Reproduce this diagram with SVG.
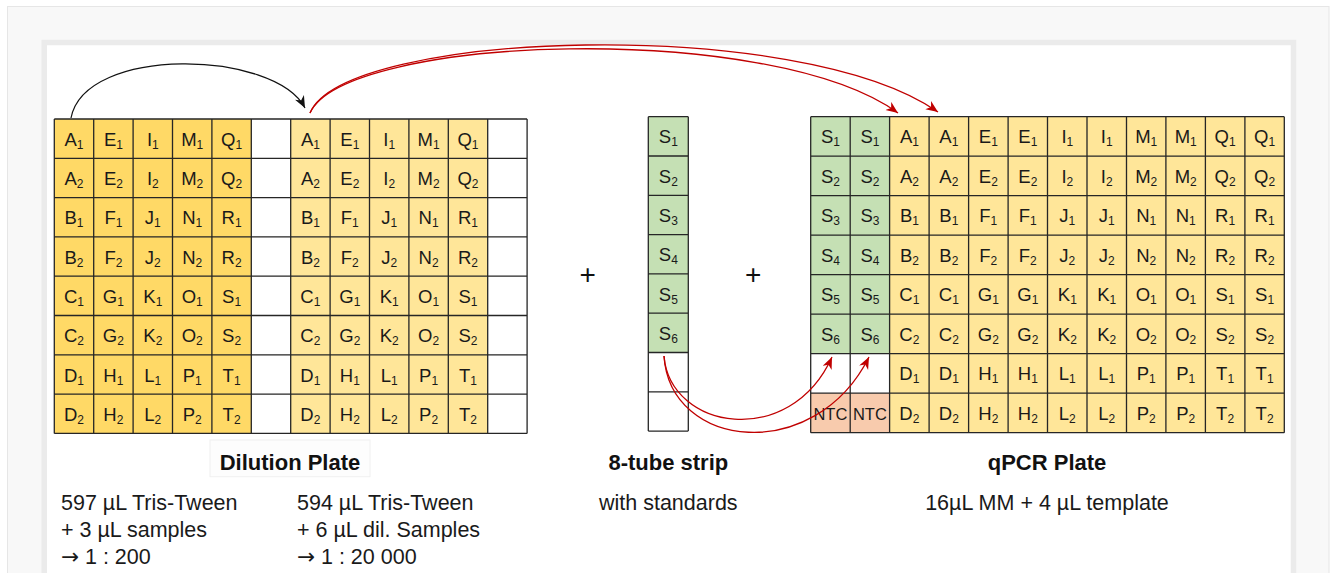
<svg xmlns="http://www.w3.org/2000/svg" width="1335" height="573" viewBox="0 0 1335 573">
  <style>
    .cell { font-family: "Liberation Sans", Arial, sans-serif; font-size: 18.5px; fill: #1a1a1a; text-anchor: middle; }
    .sub { font-size: 12px; }
    .grid { fill: none; stroke: #262626; stroke-width: 1.3; }
    .title { font-family: "Liberation Sans", Arial, sans-serif; font-size: 22px; font-weight: bold; fill: #111; text-anchor: middle; }
    .body { font-family: "Liberation Sans", Arial, sans-serif; font-size: 21.5px; fill: #1a1a1a; }
    .arr { font-family: "DejaVu Sans", sans-serif; }
    .mid { text-anchor: middle; }
    .plus { font-family: "Liberation Sans", Arial, sans-serif; font-size: 28px; fill: #111; text-anchor: middle; }
    .wire-black { fill: none; stroke: #111; stroke-width: 1.2; }
    .wire-red { fill: none; stroke: #c00000; stroke-width: 1.3; }
  </style>
  <defs>
    <marker id="ah-black" markerUnits="userSpaceOnUse" markerWidth="13" markerHeight="11" refX="12" refY="5" orient="auto">
      <path d="M0,0 L12,5 L0,10 L3.5,5 z" fill="#111"/>
    </marker>
    <marker id="ah-red" markerUnits="userSpaceOnUse" markerWidth="13" markerHeight="11" refX="12" refY="5" orient="auto">
      <path d="M0,0 L12,5 L0,10 L3.5,5 z" fill="#c00000"/>
    </marker>
  </defs>

  <!-- page frame -->
  <rect x="7.5" y="6.5" width="1321.5" height="580" fill="#f8f8f8" stroke="#e6e6e6" stroke-width="1"/>
  <rect x="44.2" y="42.5" width="1249.3" height="560" fill="#ffffff" stroke="#ebebeb" stroke-width="5.5"/>

  <!-- Dilution plate: two 1:200 / 1:20000 halves -->
  <g id="dilution-plate">
    <rect x="54.3" y="119" width="197" height="314.4" fill="#ffd966"/>
    <rect x="290.7" y="119" width="197" height="314.4" fill="#ffe699"/>
    <path class="grid" d="M54.3,119 H527.1 M54.3,158.3 H527.1 M54.3,197.6 H527.1 M54.3,236.9 H527.1 M54.3,276.2 H527.1 M54.3,315.5 H527.1 M54.3,354.8 H527.1 M54.3,394.1 H527.1 M54.3,433.4 H527.1
      M54.3,119 V433.4 M93.7,119 V433.4 M133.1,119 V433.4 M172.5,119 V433.4 M211.9,119 V433.4 M251.3,119 V433.4 M290.7,119 V433.4 M330.1,119 V433.4 M369.5,119 V433.4 M408.9,119 V433.4 M448.3,119 V433.4 M487.7,119 V433.4 M527.1,119 V433.4"/>
    <g class="cell">
      <g transform="translate(0,145.7)">
        <text x="74">A<tspan class="sub" dy="3">1</tspan></text><text x="113.4">E<tspan class="sub" dy="3">1</tspan></text><text x="152.8">I<tspan class="sub" dy="3">1</tspan></text><text x="192.2">M<tspan class="sub" dy="3">1</tspan></text><text x="231.6">Q<tspan class="sub" dy="3">1</tspan></text>
        <text x="310.4">A<tspan class="sub" dy="3">1</tspan></text><text x="349.8">E<tspan class="sub" dy="3">1</tspan></text><text x="389.2">I<tspan class="sub" dy="3">1</tspan></text><text x="428.6">M<tspan class="sub" dy="3">1</tspan></text><text x="468">Q<tspan class="sub" dy="3">1</tspan></text>
      </g>
      <g transform="translate(0,185)">
        <text x="74">A<tspan class="sub" dy="3">2</tspan></text><text x="113.4">E<tspan class="sub" dy="3">2</tspan></text><text x="152.8">I<tspan class="sub" dy="3">2</tspan></text><text x="192.2">M<tspan class="sub" dy="3">2</tspan></text><text x="231.6">Q<tspan class="sub" dy="3">2</tspan></text>
        <text x="310.4">A<tspan class="sub" dy="3">2</tspan></text><text x="349.8">E<tspan class="sub" dy="3">2</tspan></text><text x="389.2">I<tspan class="sub" dy="3">2</tspan></text><text x="428.6">M<tspan class="sub" dy="3">2</tspan></text><text x="468">Q<tspan class="sub" dy="3">2</tspan></text>
      </g>
      <g transform="translate(0,224.3)">
        <text x="74">B<tspan class="sub" dy="3">1</tspan></text><text x="113.4">F<tspan class="sub" dy="3">1</tspan></text><text x="152.8">J<tspan class="sub" dy="3">1</tspan></text><text x="192.2">N<tspan class="sub" dy="3">1</tspan></text><text x="231.6">R<tspan class="sub" dy="3">1</tspan></text>
        <text x="310.4">B<tspan class="sub" dy="3">1</tspan></text><text x="349.8">F<tspan class="sub" dy="3">1</tspan></text><text x="389.2">J<tspan class="sub" dy="3">1</tspan></text><text x="428.6">N<tspan class="sub" dy="3">1</tspan></text><text x="468">R<tspan class="sub" dy="3">1</tspan></text>
      </g>
      <g transform="translate(0,263.6)">
        <text x="74">B<tspan class="sub" dy="3">2</tspan></text><text x="113.4">F<tspan class="sub" dy="3">2</tspan></text><text x="152.8">J<tspan class="sub" dy="3">2</tspan></text><text x="192.2">N<tspan class="sub" dy="3">2</tspan></text><text x="231.6">R<tspan class="sub" dy="3">2</tspan></text>
        <text x="310.4">B<tspan class="sub" dy="3">2</tspan></text><text x="349.8">F<tspan class="sub" dy="3">2</tspan></text><text x="389.2">J<tspan class="sub" dy="3">2</tspan></text><text x="428.6">N<tspan class="sub" dy="3">2</tspan></text><text x="468">R<tspan class="sub" dy="3">2</tspan></text>
      </g>
      <g transform="translate(0,302.9)">
        <text x="74">C<tspan class="sub" dy="3">1</tspan></text><text x="113.4">G<tspan class="sub" dy="3">1</tspan></text><text x="152.8">K<tspan class="sub" dy="3">1</tspan></text><text x="192.2">O<tspan class="sub" dy="3">1</tspan></text><text x="231.6">S<tspan class="sub" dy="3">1</tspan></text>
        <text x="310.4">C<tspan class="sub" dy="3">1</tspan></text><text x="349.8">G<tspan class="sub" dy="3">1</tspan></text><text x="389.2">K<tspan class="sub" dy="3">1</tspan></text><text x="428.6">O<tspan class="sub" dy="3">1</tspan></text><text x="468">S<tspan class="sub" dy="3">1</tspan></text>
      </g>
      <g transform="translate(0,342.2)">
        <text x="74">C<tspan class="sub" dy="3">2</tspan></text><text x="113.4">G<tspan class="sub" dy="3">2</tspan></text><text x="152.8">K<tspan class="sub" dy="3">2</tspan></text><text x="192.2">O<tspan class="sub" dy="3">2</tspan></text><text x="231.6">S<tspan class="sub" dy="3">2</tspan></text>
        <text x="310.4">C<tspan class="sub" dy="3">2</tspan></text><text x="349.8">G<tspan class="sub" dy="3">2</tspan></text><text x="389.2">K<tspan class="sub" dy="3">2</tspan></text><text x="428.6">O<tspan class="sub" dy="3">2</tspan></text><text x="468">S<tspan class="sub" dy="3">2</tspan></text>
      </g>
      <g transform="translate(0,381.5)">
        <text x="74">D<tspan class="sub" dy="3">1</tspan></text><text x="113.4">H<tspan class="sub" dy="3">1</tspan></text><text x="152.8">L<tspan class="sub" dy="3">1</tspan></text><text x="192.2">P<tspan class="sub" dy="3">1</tspan></text><text x="231.6">T<tspan class="sub" dy="3">1</tspan></text>
        <text x="310.4">D<tspan class="sub" dy="3">1</tspan></text><text x="349.8">H<tspan class="sub" dy="3">1</tspan></text><text x="389.2">L<tspan class="sub" dy="3">1</tspan></text><text x="428.6">P<tspan class="sub" dy="3">1</tspan></text><text x="468">T<tspan class="sub" dy="3">1</tspan></text>
      </g>
      <g transform="translate(0,420.8)">
        <text x="74">D<tspan class="sub" dy="3">2</tspan></text><text x="113.4">H<tspan class="sub" dy="3">2</tspan></text><text x="152.8">L<tspan class="sub" dy="3">2</tspan></text><text x="192.2">P<tspan class="sub" dy="3">2</tspan></text><text x="231.6">T<tspan class="sub" dy="3">2</tspan></text>
        <text x="310.4">D<tspan class="sub" dy="3">2</tspan></text><text x="349.8">H<tspan class="sub" dy="3">2</tspan></text><text x="389.2">L<tspan class="sub" dy="3">2</tspan></text><text x="428.6">P<tspan class="sub" dy="3">2</tspan></text><text x="468">T<tspan class="sub" dy="3">2</tspan></text>
      </g>
    </g>
  </g>

  <!-- 8-tube strip with standards -->
  <g id="tube-strip">
    <rect x="648.3" y="116.7" width="40" height="235.8" fill="#c5e0b4"/>
    <path class="grid" d="M648.3,116.7 H688.3 M648.3,156 H688.3 M648.3,195.3 H688.3 M648.3,234.6 H688.3 M648.3,273.9 H688.3 M648.3,313.2 H688.3 M648.3,352.5 H688.3 M648.3,391.8 H688.3 M648.3,431.1 H688.3 M648.3,116.7 V431.1 M688.3,116.7 V431.1"/>
    <g class="cell">
      <text x="668.3" y="143.4">S<tspan class="sub" dy="3">1</tspan></text>
      <text x="668.3" y="182.7">S<tspan class="sub" dy="3">2</tspan></text>
      <text x="668.3" y="222">S<tspan class="sub" dy="3">3</tspan></text>
      <text x="668.3" y="261.3">S<tspan class="sub" dy="3">4</tspan></text>
      <text x="668.3" y="300.6">S<tspan class="sub" dy="3">5</tspan></text>
      <text x="668.3" y="339.9">S<tspan class="sub" dy="3">6</tspan></text>
    </g>
  </g>

  <g id="plus-signs">
    <text class="plus" x="587.7" y="284">+</text>
    <text class="plus" x="753.3" y="284">+</text>
  </g>

  <!-- qPCR plate: standards, NTCs, duplicate samples -->
  <g id="qpcr-plate">
    <rect x="810.7" y="116.7" width="78.9" height="237" fill="#c5e0b4"/>
    <rect x="810.7" y="393.2" width="78.9" height="39.5" fill="#f8cbad"/>
    <rect x="889.6" y="116.7" width="394.7" height="316" fill="#ffe699"/>
    <path class="grid" d="M810.7,116.7 H1284.3 M810.7,156.2 H1284.3 M810.7,195.7 H1284.3 M810.7,235.2 H1284.3 M810.7,274.7 H1284.3 M810.7,314.2 H1284.3 M810.7,353.7 H1284.3 M810.7,393.2 H1284.3 M810.7,432.7 H1284.3
      M810.7,116.7 V432.7 M850.2,116.7 V432.7 M889.6,116.7 V432.7 M929.1,116.7 V432.7 M968.6,116.7 V432.7 M1008.1,116.7 V432.7 M1047.5,116.7 V432.7 M1087,116.7 V432.7 M1126.5,116.7 V432.7 M1165.9,116.7 V432.7 M1205.4,116.7 V432.7 M1244.9,116.7 V432.7 M1284.3,116.7 V432.7"/>
    <g class="cell">
      <g transform="translate(0,143.4)">
        <text x="830.4">S<tspan class="sub" dy="3">1</tspan></text><text x="869.9">S<tspan class="sub" dy="3">1</tspan></text>
        <text x="909.4">A<tspan class="sub" dy="3">1</tspan></text><text x="948.8">A<tspan class="sub" dy="3">1</tspan></text><text x="988.3">E<tspan class="sub" dy="3">1</tspan></text><text x="1027.8">E<tspan class="sub" dy="3">1</tspan></text><text x="1067.3">I<tspan class="sub" dy="3">1</tspan></text><text x="1106.7">I<tspan class="sub" dy="3">1</tspan></text><text x="1146.2">M<tspan class="sub" dy="3">1</tspan></text><text x="1185.7">M<tspan class="sub" dy="3">1</tspan></text><text x="1225.1">Q<tspan class="sub" dy="3">1</tspan></text><text x="1264.6">Q<tspan class="sub" dy="3">1</tspan></text>
      </g>
      <g transform="translate(0,182.9)">
        <text x="830.4">S<tspan class="sub" dy="3">2</tspan></text><text x="869.9">S<tspan class="sub" dy="3">2</tspan></text>
        <text x="909.4">A<tspan class="sub" dy="3">2</tspan></text><text x="948.8">A<tspan class="sub" dy="3">2</tspan></text><text x="988.3">E<tspan class="sub" dy="3">2</tspan></text><text x="1027.8">E<tspan class="sub" dy="3">2</tspan></text><text x="1067.3">I<tspan class="sub" dy="3">2</tspan></text><text x="1106.7">I<tspan class="sub" dy="3">2</tspan></text><text x="1146.2">M<tspan class="sub" dy="3">2</tspan></text><text x="1185.7">M<tspan class="sub" dy="3">2</tspan></text><text x="1225.1">Q<tspan class="sub" dy="3">2</tspan></text><text x="1264.6">Q<tspan class="sub" dy="3">2</tspan></text>
      </g>
      <g transform="translate(0,222.4)">
        <text x="830.4">S<tspan class="sub" dy="3">3</tspan></text><text x="869.9">S<tspan class="sub" dy="3">3</tspan></text>
        <text x="909.4">B<tspan class="sub" dy="3">1</tspan></text><text x="948.8">B<tspan class="sub" dy="3">1</tspan></text><text x="988.3">F<tspan class="sub" dy="3">1</tspan></text><text x="1027.8">F<tspan class="sub" dy="3">1</tspan></text><text x="1067.3">J<tspan class="sub" dy="3">1</tspan></text><text x="1106.7">J<tspan class="sub" dy="3">1</tspan></text><text x="1146.2">N<tspan class="sub" dy="3">1</tspan></text><text x="1185.7">N<tspan class="sub" dy="3">1</tspan></text><text x="1225.1">R<tspan class="sub" dy="3">1</tspan></text><text x="1264.6">R<tspan class="sub" dy="3">1</tspan></text>
      </g>
      <g transform="translate(0,261.9)">
        <text x="830.4">S<tspan class="sub" dy="3">4</tspan></text><text x="869.9">S<tspan class="sub" dy="3">4</tspan></text>
        <text x="909.4">B<tspan class="sub" dy="3">2</tspan></text><text x="948.8">B<tspan class="sub" dy="3">2</tspan></text><text x="988.3">F<tspan class="sub" dy="3">2</tspan></text><text x="1027.8">F<tspan class="sub" dy="3">2</tspan></text><text x="1067.3">J<tspan class="sub" dy="3">2</tspan></text><text x="1106.7">J<tspan class="sub" dy="3">2</tspan></text><text x="1146.2">N<tspan class="sub" dy="3">2</tspan></text><text x="1185.7">N<tspan class="sub" dy="3">2</tspan></text><text x="1225.1">R<tspan class="sub" dy="3">2</tspan></text><text x="1264.6">R<tspan class="sub" dy="3">2</tspan></text>
      </g>
      <g transform="translate(0,301.4)">
        <text x="830.4">S<tspan class="sub" dy="3">5</tspan></text><text x="869.9">S<tspan class="sub" dy="3">5</tspan></text>
        <text x="909.4">C<tspan class="sub" dy="3">1</tspan></text><text x="948.8">C<tspan class="sub" dy="3">1</tspan></text><text x="988.3">G<tspan class="sub" dy="3">1</tspan></text><text x="1027.8">G<tspan class="sub" dy="3">1</tspan></text><text x="1067.3">K<tspan class="sub" dy="3">1</tspan></text><text x="1106.7">K<tspan class="sub" dy="3">1</tspan></text><text x="1146.2">O<tspan class="sub" dy="3">1</tspan></text><text x="1185.7">O<tspan class="sub" dy="3">1</tspan></text><text x="1225.1">S<tspan class="sub" dy="3">1</tspan></text><text x="1264.6">S<tspan class="sub" dy="3">1</tspan></text>
      </g>
      <g transform="translate(0,340.9)">
        <text x="830.4">S<tspan class="sub" dy="3">6</tspan></text><text x="869.9">S<tspan class="sub" dy="3">6</tspan></text>
        <text x="909.4">C<tspan class="sub" dy="3">2</tspan></text><text x="948.8">C<tspan class="sub" dy="3">2</tspan></text><text x="988.3">G<tspan class="sub" dy="3">2</tspan></text><text x="1027.8">G<tspan class="sub" dy="3">2</tspan></text><text x="1067.3">K<tspan class="sub" dy="3">2</tspan></text><text x="1106.7">K<tspan class="sub" dy="3">2</tspan></text><text x="1146.2">O<tspan class="sub" dy="3">2</tspan></text><text x="1185.7">O<tspan class="sub" dy="3">2</tspan></text><text x="1225.1">S<tspan class="sub" dy="3">2</tspan></text><text x="1264.6">S<tspan class="sub" dy="3">2</tspan></text>
      </g>
      <g transform="translate(0,380.4)">
        <text x="909.4">D<tspan class="sub" dy="3">1</tspan></text><text x="948.8">D<tspan class="sub" dy="3">1</tspan></text><text x="988.3">H<tspan class="sub" dy="3">1</tspan></text><text x="1027.8">H<tspan class="sub" dy="3">1</tspan></text><text x="1067.3">L<tspan class="sub" dy="3">1</tspan></text><text x="1106.7">L<tspan class="sub" dy="3">1</tspan></text><text x="1146.2">P<tspan class="sub" dy="3">1</tspan></text><text x="1185.7">P<tspan class="sub" dy="3">1</tspan></text><text x="1225.1">T<tspan class="sub" dy="3">1</tspan></text><text x="1264.6">T<tspan class="sub" dy="3">1</tspan></text>
      </g>
      <g transform="translate(0,419.9)">
        <text x="830.4" font-size="16.5">NTC</text><text x="869.9" font-size="16.5">NTC</text>
        <text x="909.4">D<tspan class="sub" dy="3">2</tspan></text><text x="948.8">D<tspan class="sub" dy="3">2</tspan></text><text x="988.3">H<tspan class="sub" dy="3">2</tspan></text><text x="1027.8">H<tspan class="sub" dy="3">2</tspan></text><text x="1067.3">L<tspan class="sub" dy="3">2</tspan></text><text x="1106.7">L<tspan class="sub" dy="3">2</tspan></text><text x="1146.2">P<tspan class="sub" dy="3">2</tspan></text><text x="1185.7">P<tspan class="sub" dy="3">2</tspan></text><text x="1225.1">T<tspan class="sub" dy="3">2</tspan></text><text x="1264.6">T<tspan class="sub" dy="3">2</tspan></text>
      </g>
    </g>
  </g>

  <!-- captions -->
  <g id="dilution-caption">
    <rect x="210" y="440" width="160" height="36.7" fill="#fdfdfd" stroke="#f0f0f0" stroke-width="1"/>
    <text class="title" x="290" y="470">Dilution Plate</text>
    <text class="body" x="61" y="510">597 µL Tris-Tween</text>
    <text class="body" x="61" y="537">+ 3 µL samples</text>
    <text class="body" x="61" y="564"><tspan class="arr">→</tspan> 1 : 200</text>
    <text class="body" x="297" y="510">594 µL Tris-Tween</text>
    <text class="body" x="297" y="537">+ 6 µL dil. Samples</text>
    <text class="body" x="297" y="564"><tspan class="arr">→</tspan> 1 : 20 000</text>
  </g>
  <g id="strip-caption">
    <text class="title" x="668.3" y="470">8-tube strip</text>
    <text class="body mid" x="668.3" y="510">with standards</text>
  </g>
  <g id="qpcr-caption">
    <text class="title" x="1047" y="470">qPCR Plate</text>
    <text class="body mid" x="1047" y="510">16µL MM + 4 µL template</text>
  </g>

  <!-- pipetting transfers -->
  <g id="connectors">
    <path class="wire-black" d="M71,118 C85,45 275,50 305,108" marker-end="url(#ah-black)"/>
    <path class="wire-red" d="M310,113 C345,35 770,20 898,113" marker-end="url(#ah-red)"/>
    <path class="wire-red" d="M310,113 C345,30 800,15 938,112" marker-end="url(#ah-red)"/>
    <path class="wire-red" d="M664,356 C670,430 790,450 832,357" marker-end="url(#ah-red)"/>
    <path class="wire-red" d="M664,356 C670,450 815,465 869,357" marker-end="url(#ah-red)"/>
  </g>
</svg>
